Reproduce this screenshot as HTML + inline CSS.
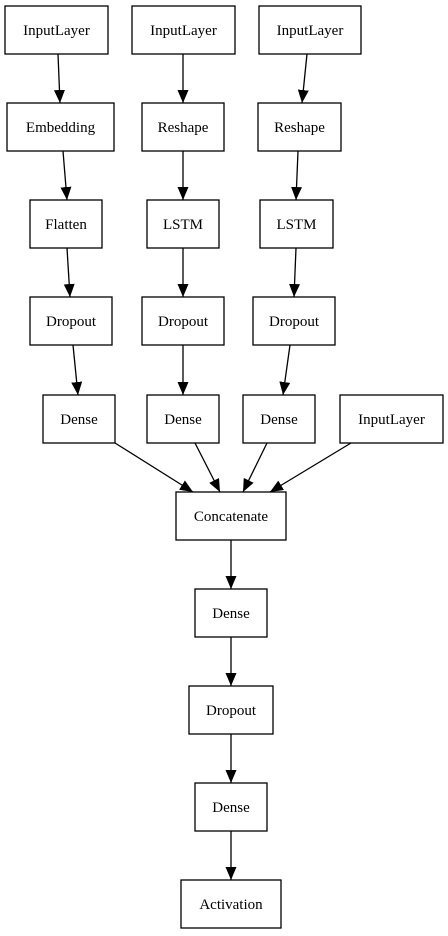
<!DOCTYPE html>
<html><head><meta charset="utf-8"><style>
html,body{margin:0;padding:0;background:#fff;}
svg{display:block;}
text{font-family:"Liberation Serif",serif;font-size:15px;fill:#000;}
rect{fill:#fff;stroke:#000;stroke-width:1.3;}
line{stroke:#000;stroke-width:1.3;}
</style></head><body>
<svg width="448" height="936" viewBox="0 0 448 936" xmlns="http://www.w3.org/2000/svg">
<defs><marker id="a" markerUnits="userSpaceOnUse" markerWidth="14" markerHeight="12" refX="13" refY="5.5" orient="auto"><path d="M0,0 L13,5.5 L0,11 z" fill="#000"/></marker></defs>
<g marker-end="url(#a)">
<line x1="58" y1="54" x2="60" y2="103"/>
<line x1="63" y1="151" x2="67" y2="200"/>
<line x1="67" y1="248" x2="70" y2="297"/>
<line x1="73" y1="345" x2="78" y2="395"/>
<line x1="183" y1="54" x2="183" y2="103"/>
<line x1="183" y1="151" x2="183" y2="200"/>
<line x1="183" y1="248" x2="183" y2="297"/>
<line x1="183" y1="345" x2="183" y2="395"/>
<line x1="307" y1="54" x2="302" y2="103"/>
<line x1="298" y1="151" x2="296" y2="200"/>
<line x1="296" y1="248" x2="294" y2="297"/>
<line x1="290" y1="345" x2="283" y2="395"/>
<line x1="115" y1="443" x2="193" y2="492"/>
<line x1="195" y1="443" x2="220" y2="492"/>
<line x1="267" y1="443" x2="243" y2="492"/>
<line x1="351" y1="443" x2="270" y2="492"/>
<line x1="231" y1="540" x2="231" y2="589"/>
<line x1="231" y1="637" x2="231" y2="686"/>
<line x1="231" y1="734" x2="231" y2="783"/>
<line x1="231" y1="831" x2="231" y2="880"/>
</g>
<rect x="5" y="6" width="103" height="48"/><text x="56.5" y="35" text-anchor="middle">InputLayer</text>
<rect x="132" y="6" width="103" height="48"/><text x="183.5" y="35" text-anchor="middle">InputLayer</text>
<rect x="259" y="6" width="102" height="48"/><text x="310" y="35" text-anchor="middle">InputLayer</text>
<rect x="7" y="103" width="107" height="48"/><text x="60.5" y="132" text-anchor="middle">Embedding</text>
<rect x="142" y="103" width="82" height="48"/><text x="183" y="132" text-anchor="middle">Reshape</text>
<rect x="258" y="103" width="83" height="48"/><text x="299.5" y="132" text-anchor="middle">Reshape</text>
<rect x="30" y="200" width="72" height="48"/><text x="66" y="229" text-anchor="middle">Flatten</text>
<rect x="147" y="200" width="72" height="48"/><text x="183" y="229" text-anchor="middle">LSTM</text>
<rect x="260" y="200" width="73" height="48"/><text x="296.5" y="229" text-anchor="middle">LSTM</text>
<rect x="30" y="297" width="82" height="48"/><text x="71" y="326" text-anchor="middle">Dropout</text>
<rect x="142" y="297" width="82" height="48"/><text x="183" y="326" text-anchor="middle">Dropout</text>
<rect x="253" y="297" width="82" height="48"/><text x="294" y="326" text-anchor="middle">Dropout</text>
<rect x="43" y="395" width="72" height="48"/><text x="79" y="424" text-anchor="middle">Dense</text>
<rect x="147" y="395" width="72" height="48"/><text x="183" y="424" text-anchor="middle">Dense</text>
<rect x="243" y="395" width="72" height="48"/><text x="279" y="424" text-anchor="middle">Dense</text>
<rect x="340" y="395" width="103" height="48"/><text x="391.5" y="424" text-anchor="middle">InputLayer</text>
<rect x="176" y="492" width="110" height="48"/><text x="231" y="521" text-anchor="middle">Concatenate</text>
<rect x="195" y="589" width="72" height="48"/><text x="231" y="618" text-anchor="middle">Dense</text>
<rect x="189" y="686" width="84" height="48"/><text x="231" y="715" text-anchor="middle">Dropout</text>
<rect x="195" y="783" width="72" height="48"/><text x="231" y="812" text-anchor="middle">Dense</text>
<rect x="181" y="880" width="100" height="48"/><text x="231" y="909" text-anchor="middle">Activation</text>
</svg>
</body></html>
